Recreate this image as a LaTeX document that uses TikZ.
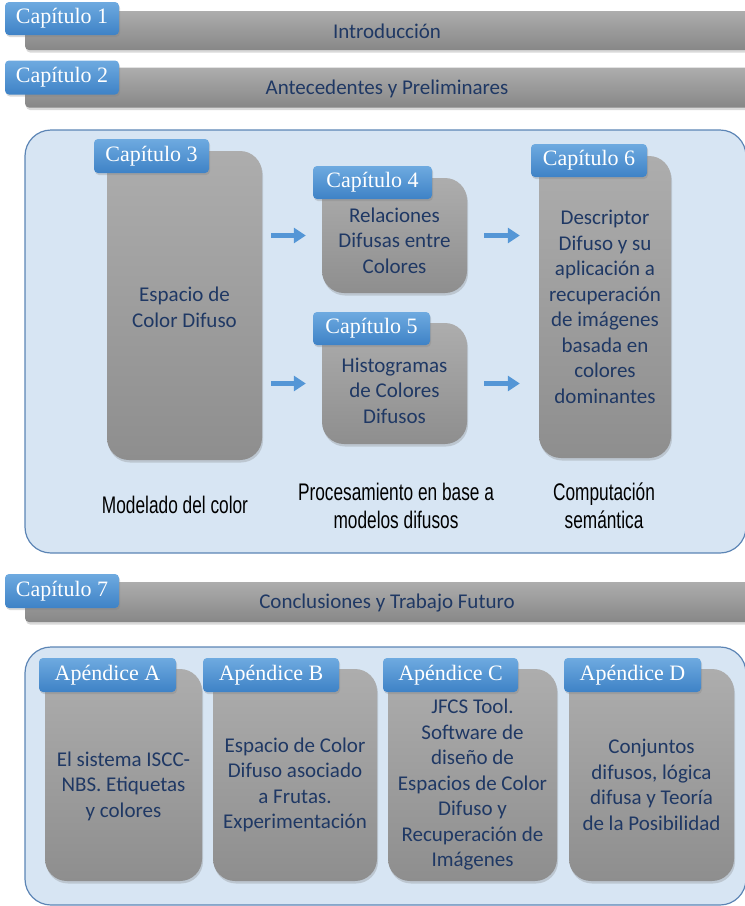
\documentclass[tikz,border=0pt]{standalone}
\usepackage{fontspec}
\setmainfont{Carlito}
\newfontfamily\tabfont{Liberation Serif}
\newfontfamily\rotfont[FakeStretch=0.72]{Liberation Sans}
\usetikzlibrary{shadows,arrows.meta,calc}
\definecolor{tinta}{RGB}{31,56,100}
\definecolor{grisA}{RGB}{173,173,173}
\definecolor{grisB}{RGB}{142,142,142}
\definecolor{azulA}{RGB}{110,170,224}
\definecolor{azulB}{RGB}{62,130,198}
\definecolor{flechaazul}{RGB}{84,150,214}
\definecolor{fondo}{RGB}{215,229,243}
\definecolor{borde}{RGB}{92,133,181}

\begin{document}
\begin{tikzpicture}[x=1pt,y=-1pt,
  caja/.style={rounded corners=22pt, top color=grisA, bottom color=grisB,
    drop shadow={opacity=0.3, shadow xshift=1pt, shadow yshift=-2.5pt}, inner sep=0pt},
  texto/.style={align=center, text=tinta, inner sep=0pt, font=\fontsize{21}{25.5}\selectfont},
  barra/.style={rounded corners=4pt, top color=grisA, bottom color=grisB!95!black,
    drop shadow={opacity=0.3, shadow xshift=1pt, shadow yshift=-2.5pt},
    text=tinta, inner sep=0pt, text height=17pt, font=\fontsize{21}{24}\selectfont},
  tab/.style={rounded corners=4pt, top color=azulA, bottom color=azulB,
    drop shadow={opacity=0.3, shadow xshift=1pt, shadow yshift=-2pt},
    text=white, inner sep=0pt, font=\tabfont\fontsize{22}{24}\selectfont},
  rotulo/.style={align=center, font=\rotfont\fontsize{24}{28}\selectfont},
  flecha/.style={line width=4.5pt, draw=flechaazul, -{Triangle[length=12pt,width=15pt]}},
  marco/.style={rounded corners=26pt, fill=fondo, draw=borde, line width=1.2pt}]
\useasboundingbox (0,0) rectangle (745,906);
\clip (0,0) rectangle (745,906);

% Bloques de fondo
\draw[marco] (25,130) rectangle (746,553);
\draw[marco] (25,647) rectangle (746,905);

% Capitulos 1, 2 y 7
\node[barra, minimum width=724pt, minimum height=39pt] (b1) at (387,30.5) {Introducción};
\node[tab, minimum width=114pt, minimum height=33pt] (t1) at (62,18.5) {Capítulo 1};
\node[barra, minimum width=724pt, minimum height=40pt] (b2) at (387,87.5) {Antecedentes y Preliminares};
\node[tab, minimum width=114pt, minimum height=34pt] (t2) at (62,77.5) {Capítulo 2};
\node[barra, minimum width=724pt, minimum height=40pt] (b7) at (387,602) {Conclusiones y Trabajo Futuro};
\node[tab, minimum width=114pt, minimum height=34pt] (t7) at (62,591) {Capítulo 7};

% Capitulos 3 a 6
\node[caja, minimum width=155pt, minimum height=309pt] (c3) at (184.5,305.5) {};
\node[caja, minimum width=145pt, minimum height=115pt] (c4) at (394.5,235.5) {};
\node[caja, minimum width=145pt, minimum height=121pt] (c5) at (394.5,383.5) {};
\node[caja, minimum width=132pt, minimum height=302pt] (c6) at (605,307) {};

\node[texto] (c3t) at ($(c3)+(0,2)$) {Espacio de\\Color Difuso};
\node[texto] (c4t) at ($(c4)+(0,5)$) {Relaciones\\Difusas entre\\Colores};
\node[texto] (c5t) at ($(c5)+(0,7)$) {Histogramas\\de Colores\\Difusos};
\node[texto] (c6t) at (c6) {Descriptor\\Difuso y su\\aplicación a\\recuperación\\de imágenes\\basada en\\colores\\dominantes};

\node[tab, minimum width=115pt, minimum height=34pt] (t3) at (151.5,156) {Capítulo 3};
\node[tab, minimum width=119pt, minimum height=33pt] (t4) at (372.5,182.5) {Capítulo 4};
\node[tab, minimum width=117pt, minimum height=33pt] (t5) at (371.5,328.5) {Capítulo 5};
\node[tab, minimum width=116pt, minimum height=33pt] (t6) at (589,160.5) {Capítulo 6};

% Flechas
\draw[flecha, shorten <=9pt, shorten >=16pt] (c3.east |- c4.west) -- (c4.west);
\draw[flecha, shorten <=9pt, shorten >=16pt] (c3.east |- c5.west) -- (c5.west);
\draw[flecha, shorten <=17pt, shorten >=19pt] (c4.east) -- (c6.west |- c4.east);
\draw[flecha, shorten <=17pt, shorten >=19pt] (c5.east) -- (c6.west |- c5.east);

% Rotulos
\node[rotulo] (r3) at (175,505) {Modelado del color};
\node[rotulo] (r45) at (396,506) {Procesamiento en base a\\modelos difusos};
\node[rotulo] (r6) at (604,506) {Computación\\semántica};

% Apendices
\node[caja, minimum width=157pt, minimum height=212pt] (aa) at (123.5,775) {};
\node[caja, minimum width=164pt, minimum height=212pt] (ab) at (295,775) {};
\node[caja, minimum width=169pt, minimum height=212pt] (ac) at (472.5,775) {};
\node[caja, minimum width=165pt, minimum height=212pt] (ad) at (651.5,775) {};

\node[texto] (aat) at ($(aa)+(0,11)$) {El sistema ISCC-\\NBS. Etiquetas\\y colores};
\node[texto] (abt) at ($(ab)+(0,10)$) {Espacio de Color\\Difuso asociado\\a Frutas.\\Experimentación};
\node[texto] (act) at ($(ac)+(0,10)$) {JFCS Tool.\\Software de\\diseño de\\Espacios de Color\\Difuso y\\Recuperación de\\Imágenes};
\node[texto] (adt) at ($(ad)+(0,10)$) {Conjuntos\\difusos, lógica\\difusa y Teoría\\de la Posibilidad};

\node[tab, minimum width=137pt, minimum height=34pt] (ta) at (107.5,675) {Apéndice A};
\node[tab, minimum width=136pt, minimum height=34pt] (tb) at (271,675) {Apéndice B};
\node[tab, minimum width=135pt, minimum height=34pt] (tc) at (450.5,675) {Apéndice C};
\node[tab, minimum width=137pt, minimum height=34pt] (td) at (632.5,675) {Apéndice D};
\end{tikzpicture}
\end{document}
